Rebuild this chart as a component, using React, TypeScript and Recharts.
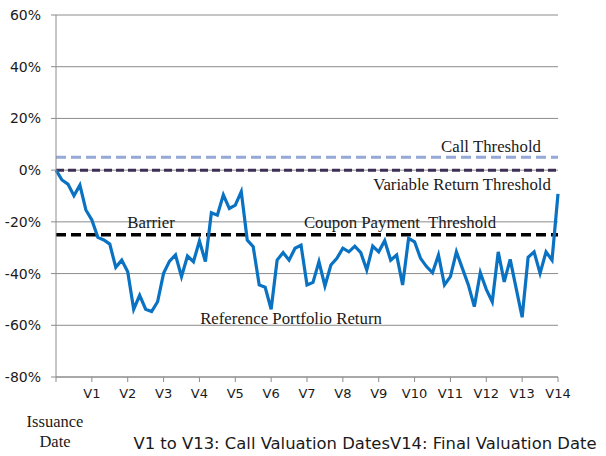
import { LineChart, Line, XAxis, YAxis, CartesianGrid, ReferenceLine } from "recharts";

// monthly reference portfolio return (%), month 0 = issuance date
const RETURNS = [
  0, -3.8, -5.4, -9.9, -5.8, -15.4, -19.3, -26, -27, -28.6,
  -37.6, -34.8, -39.3, -53.8, -48.4, -53.8, -54.7, -50.9, -39.9, -35.2,
  -32.8, -41.2, -33.2, -35.4, -27.4, -35.4, -16.5, -17.4, -9.6, -14.8,
  -13.5, -8.3, -27, -29.6, -44.4, -45.3, -53.8, -34.8, -31.9, -34.8,
  -30.2, -29, -44.4, -43.4, -35.4, -44.8, -36.7, -34.1, -30.2, -31.6,
  -29.4, -31.9, -38.6, -29.4, -31.6, -27.3, -34.8, -32.8, -44.4, -26.4,
  -27.7, -34.1, -37.3, -39.7, -32.8, -44.4, -41.2, -31.6, -38, -44.4,
  -52.8, -39.7, -46.1, -50.9, -31.6, -43.2, -34.5, -45.7, -56.9, -33.7,
  -31.6, -39.9, -31.6, -34.8, -9.2,
];

const VALUATION_LABELS = ["", "V1", "V2", "V3", "V4", "V5", "V6", "V7", "V8", "V9", "V10", "V11", "V12", "V13", "V14"];
const MONTHS_PER_VALUATION = 6;
const Y_TICKS = [-80, -60, -40, -20, 0, 20, 40, 60];

const CALL_THRESHOLD = 5;
const VARIABLE_RETURN_THRESHOLD = 0;
const BARRIER = -25;

const data = RETURNS.map((r, i) => ({ month: i, ret: r }));
const xTicks = VALUATION_LABELS.map((_, i) => i * MONTHS_PER_VALUATION);

const SANS = "'DejaVu Sans', sans-serif";
const SERIF = "'Liberation Serif', 'Times New Roman', serif";

export default function App() {
  return (
    <div style={{ position: "absolute", left: 0, top: 0, width: 606, height: 456, background: "#fff" }}>
      <LineChart width={606} height={456} data={data} margin={{ top: 15, right: 48, bottom: 0, left: 0 }}>
        <CartesianGrid vertical={false} stroke="#8c8c8c" strokeWidth={1} />
        <XAxis
          dataKey="month"
          type="number"
          domain={[0, 84]}
          ticks={xTicks}
          interval={0}
          height={79}
          tickSize={5}
          tickMargin={7}
          tickFormatter={(v: number) => VALUATION_LABELS[v / MONTHS_PER_VALUATION] ?? ""}
          tick={{ fill: "#1a1a1a", fontSize: 13, fontFamily: SANS }}
          stroke="#8c8c8c"
        />
        <YAxis
          domain={[-80, 60]}
          ticks={Y_TICKS}
          interval={0}
          width={56}
          tickSize={5}
          tickMargin={10}
          tickFormatter={(v: number) => `${v}%`}
          tick={{ fill: "#1a1a1a", fontSize: 14, fontFamily: SANS }}
          stroke="#8c8c8c"
        />
        <ReferenceLine y={CALL_THRESHOLD} stroke="#94a9d6" strokeWidth={3} strokeDasharray="10 5" />
        <ReferenceLine y={VARIABLE_RETURN_THRESHOLD} stroke="#3d2f55" strokeWidth={3} strokeDasharray="8 4" />
        <ReferenceLine y={BARRIER} stroke="#000" strokeWidth={3.5} strokeDasharray="10 5" />
        <Line
          type="linear"
          dataKey="ret"
          stroke="#0a72c2"
          strokeWidth={3.2}
          dot={false}
          isAnimationActive={false}
        />
      </LineChart>
      <svg width={606} height={456} style={{ position: "absolute", left: 0, top: 0, pointerEvents: "none" }}>
        <g fontFamily={SERIF} fontSize={16.8} fill="#1a1a1a" dominantBaseline="central">
          <text x={491} y={146} textAnchor="middle">Call Threshold</text>
          <text x={462} y={184} textAnchor="middle">Variable Return Threshold</text>
          <text x={151} y={222} textAnchor="middle">Barrier</text>
          <text x={400} y={222} textAnchor="middle" style={{ whiteSpace: "pre" }}>Coupon Payment  Threshold</text>
          <text x={291} y={318} textAnchor="middle">Reference Portfolio Return</text>
          <text x={55} y={421} textAnchor="middle" fontSize={16.5}>Issuance</text>
          <text x={55} y={441} textAnchor="middle" fontSize={16.5}>Date</text>
        </g>
        <text x={365} y={443} textAnchor="middle" dominantBaseline="central" fontFamily={SANS} fontSize={16.4} fill="#1a1a1a">
          V1 to V13: Call Valuation DatesV14: Final Valuation Date
        </text>
      </svg>
    </div>
  );
}
